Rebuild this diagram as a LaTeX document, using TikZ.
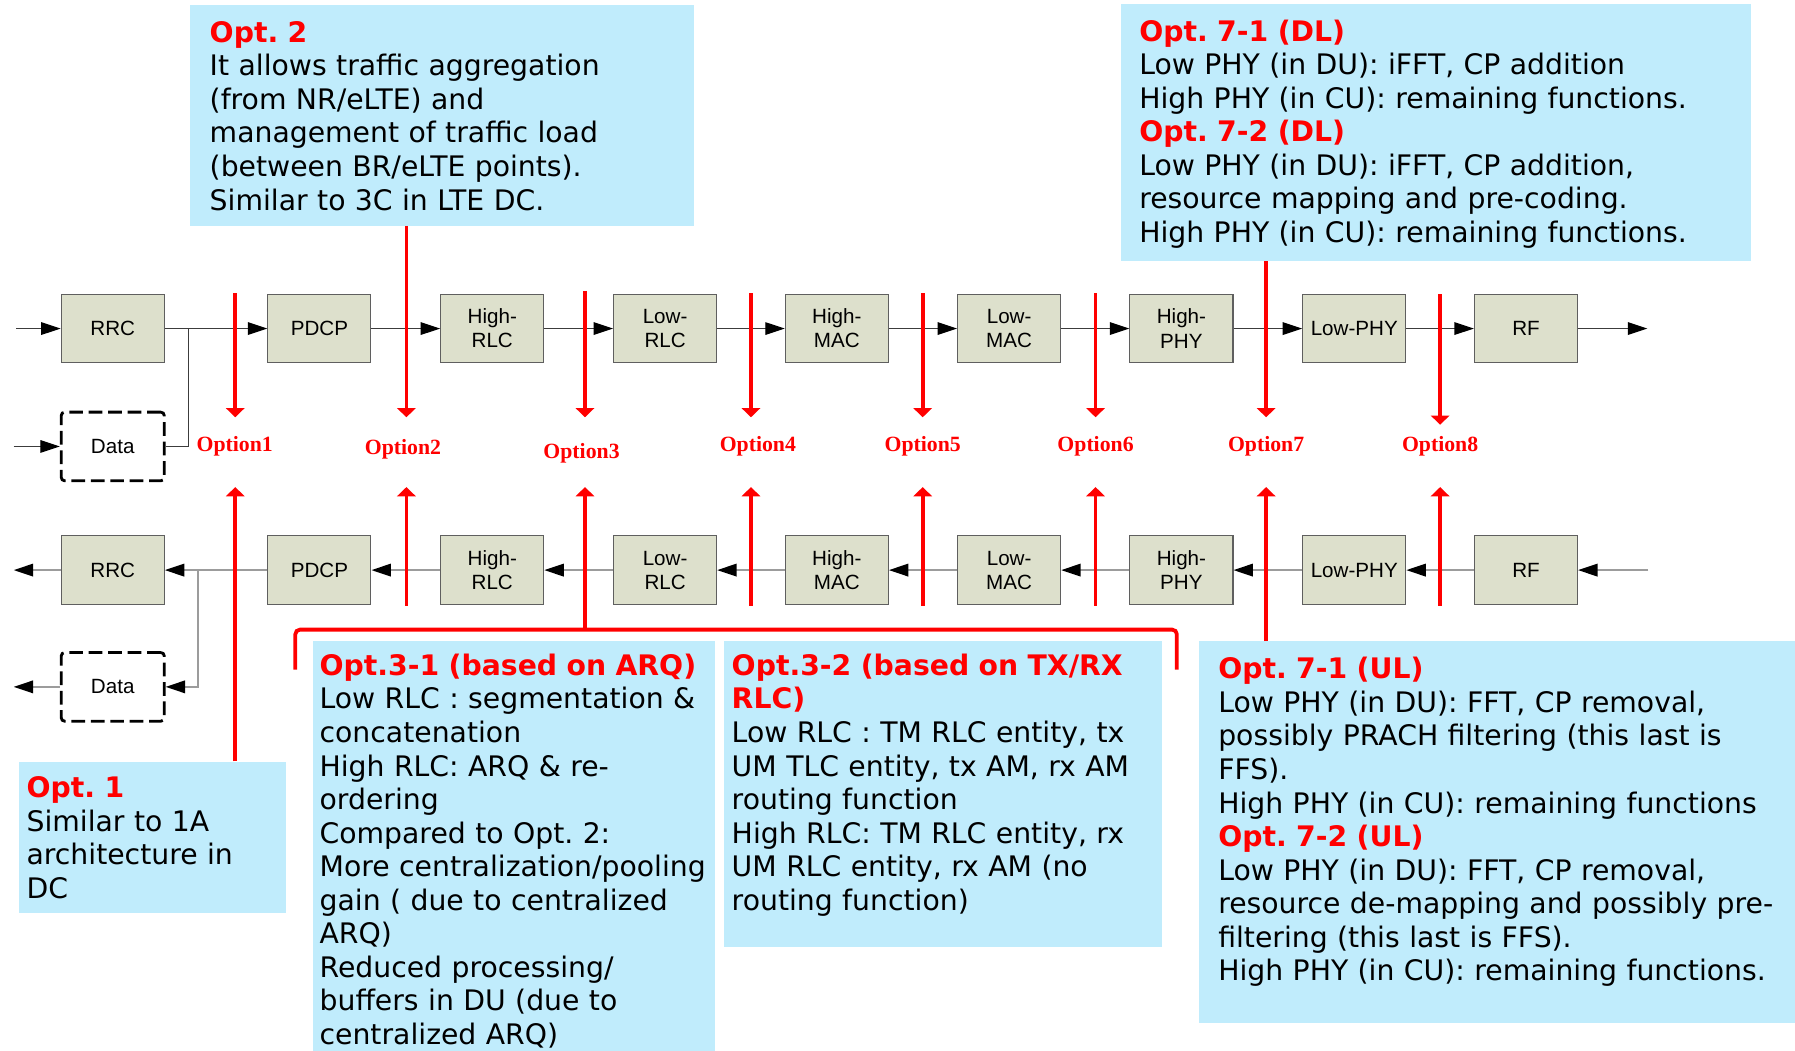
\documentclass[tikz,border=0pt]{standalone}
\usepackage{fontspec}
\setmainfont{DejaVu Sans}
\newfontfamily\lblfont{Liberation Sans}
\newfontfamily\optserif{Liberation Serif}
\usetikzlibrary{arrows.meta}
\definecolor{boxfill}{HTML}{DDE0CC}
\definecolor{boxline}{HTML}{5F5F5F}
\definecolor{infofill}{HTML}{C0ECFC}
\definecolor{optred}{HTML}{FF0000}
\definecolor{toprow}{HTML}{3C3C3C}
\definecolor{botrow}{HTML}{9C9C9C}
\newcommand\myinfofont{\fontsize{24.7}{29.3}\selectfont}
\newcommand\hd[1]{\textcolor{optred}{\bfseries #1}}
\frenchspacing
\begin{document}
\begin{tikzpicture}[x=1pt,y=-1pt,
  fn/.style={draw=boxline, fill=boxfill, line width=1pt, minimum width=90pt, minimum height=60pt,
    inner sep=0pt, align=center, font=\lblfont\fontsize{18}{21}\selectfont},
  databox/.style={draw=black, dash pattern=on 12pt off 5pt, line width=2.5pt, rounded corners=3pt,
    minimum width=90pt, minimum height=60pt, inner sep=0pt, font=\lblfont\fontsize{18}{21}\selectfont},
  infobox/.style={fill=infofill, anchor=north west, inner sep=0pt},
  infotext/.style={anchor=north west, inner sep=0pt, align=left, text width=600pt, font=\myinfofont},
  optlbl/.style={text=optred, inner sep=0pt, font=\optserif\bfseries\fontsize{19}{22}\selectfont},
  redarr/.style={draw=optred, line width=3.3pt, -{Triangle[length=8pt,width=16pt,color=optred]}},
  redline/.style={draw=optred, line width=3.3pt},
  rowT/.style={draw=toprow, line width=1pt, -{Triangle[length=17pt,width=11pt,color=black]}},
  rowTn/.style={draw=toprow, line width=1pt},
  rowB/.style={draw=botrow, line width=1.5pt, -{Triangle[length=17pt,width=11pt,color=black]}},
  rowBn/.style={draw=botrow, line width=1.5pt}
]
\useasboundingbox (0,0) rectangle (1568,918);

% ---------- info boxes ----------
\node[infobox, minimum width=440pt, minimum height=193pt] (box2) at (166,4) {};
\node[infobox, minimum width=550pt, minimum height=225pt] (box7dl) at (979,3) {};
\node[infobox, minimum width=234pt, minimum height=132pt] (box1) at (16,665) {};
\node[infobox, minimum width=351pt, minimum height=358pt] (box31) at (273,560) {};
\node[infobox, minimum width=383pt, minimum height=267pt] (box32) at (632,560) {};
\node[infobox, minimum width=521pt, minimum height=333pt] (box7ul) at (1047,560) {};

\node[infotext] (t2) at (183,16.3) {\strut\hd{Opt. 2}\\
It allows traffic aggregation\\
(from NR/eLTE) and\\
management of traffic load\\
(between BR/eLTE points).\\
Similar to 3C in LTE DC.};

\node[infotext] (t7dl) at (995,15.3) {\strut\hd{Opt. 7-1 (DL)}\\
Low PHY (in DU): iFFT, CP addition\\
High PHY (in CU): remaining functions.\\
\hd{Opt. 7-2 (DL)}\\
Low PHY (in DU): iFFT, CP addition,\\
resource mapping and pre-coding.\\
High PHY (in CU): remaining functions.};

\node[infotext] (t1) at (23,676) {\strut\hd{Opt. 1}\\
Similar to 1A\\
architecture in\\
DC};

\node[infotext] (t31) at (279,569.3) {\strut\hd{Opt.3-1 (based on ARQ)}\\
Low RLC : segmentation \&\\
concatenation\\
High RLC: ARQ \& re-\\
ordering\\
Compared to Opt. 2:\\
More centralization/pooling\\
gain ( due to centralized\\
ARQ)\\
Reduced processing/\\
buffers in DU (due to\\
centralized ARQ)};

\node[infotext] (t32) at (639,569.3) {\strut\hd{Opt.3-2 (based on TX/RX}\\
\hd{RLC)}\\
Low RLC : TM RLC entity, tx\\
UM TLC entity, tx AM, rx AM\\
routing function\\
High RLC: TM RLC entity, rx\\
UM RLC entity, rx AM (no\\
routing function)};

\node[infotext] (t7ul) at (1064,572.3) {\strut\hd{Opt. 7-1 (UL)}\\
Low PHY (in DU): FFT, CP removal,\\
possibly PRACH filtering (this last is\\
FFS).\\
High PHY (in CU): remaining functions\\
\hd{Opt. 7-2 (UL)}\\
Low PHY (in DU): FFT, CP removal,\\
resource de-mapping and possibly pre-\\
filtering (this last is FFS).\\
High PHY (in CU): remaining functions.};

% ---------- function boxes (top row, DL) ----------
\node[fn] (rrcT)  at (98.5,287) {RRC};
\node[fn] (pdcpT) at (279,287) {PDCP};
\node[fn] (hrlcT) at (430,287) {High-\\RLC};
\node[fn] (lrlcT) at (581,287) {Low-\\RLC};
\node[fn] (hmacT) at (731,287) {High-\\MAC};
\node[fn] (lmacT) at (881.5,287) {Low-\\MAC};
\node[fn] (hphyT) at (1032,287) {High-\\PHY};
\node[fn] (lphyT) at (1183,287) {Low-PHY};
\node[fn] (rfT)   at (1333,287) {RF};
\node[databox] (dataT) at (98.5,390) {Data};

% ---------- function boxes (bottom row, UL) ----------
\node[fn] (rrcB)  at (98.5,498) {RRC};
\node[fn] (pdcpB) at (279,498) {PDCP};
\node[fn] (hrlcB) at (430,498) {High-\\RLC};
\node[fn] (lrlcB) at (581,498) {Low-\\RLC};
\node[fn] (hmacB) at (731,498) {High-\\MAC};
\node[fn] (lmacB) at (881.5,498) {Low-\\MAC};
\node[fn] (hphyB) at (1032,498) {High-\\PHY};
\node[fn] (lphyB) at (1183,498) {Low-PHY};
\node[fn] (rfB)   at (1333,498) {RF};
\node[databox] (dataB) at (98.5,600) {Data};

% ---------- top row connectors ----------
\coordinate (inT) at (14,287);
\coordinate (inD) at (12,390);
\coordinate (jT) at (165,287);
\coordinate (outT) at (1439,287);
\draw[rowT] (inT) -- (rrcT.west);
\draw[rowT] (inD) -- (dataT.west);
\draw[rowTn] (dataT.east) -| (jT);
\draw[rowT] (rrcT.east) -- (pdcpT.west);
\draw[rowT] (pdcpT.east) -- (hrlcT.west);
\draw[rowT] (hrlcT.east) -- (lrlcT.west);
\draw[rowT] (lrlcT.east) -- (hmacT.west);
\draw[rowT] (hmacT.east) -- (lmacT.west);
\draw[rowT] (lmacT.east) -- (hphyT.west);
\draw[rowT] (hphyT.east) -- (lphyT.west);
\draw[rowT] (lphyT.east) -- (rfT.west);
\draw[rowT] (rfT.east) -- (outT);

% ---------- bottom row connectors ----------
\coordinate (outB) at (12,498);
\coordinate (outD) at (12,600);
\coordinate (jB) at (173,498);
\coordinate (inB) at (1440,498);
\draw[rowB] (rrcB.west) -- (outB);
\draw[rowB] (dataB.west) -- (outD);
\draw[rowB] (jB) |- (dataB.east);
\draw[rowB] (pdcpB.west) -- (rrcB.east);
\draw[rowB] (hrlcB.west) -- (pdcpB.east);
\draw[rowB] (lrlcB.west) -- (hrlcB.east);
\draw[rowB] (hmacB.west) -- (lrlcB.east);
\draw[rowB] (lmacB.west) -- (hmacB.east);
\draw[rowB] (hphyB.west) -- (lmacB.east);
\draw[rowB] (lphyB.west) -- (hphyB.east);
\draw[rowB] (rfB.west) -- (lphyB.east);
\draw[rowB] (inB) -- (rfB.east);

% ---------- option labels ----------
\node[optlbl] (l1) at (205,390) {Option1};
\node[optlbl] (l2) at (352,392.5) {Option2};
\node[optlbl] (l3) at (508,396) {Option3};
\node[optlbl] (l4) at (662,390) {Option4};
\node[optlbl] (l5) at (806,390) {Option5};
\node[optlbl] (l6) at (957,390) {Option6};
\node[optlbl] (l7) at (1106,390) {Option7};
\node[optlbl] (l8) at (1258,390) {Option8};

% ---------- red split arrows, downlink (down) ----------
\coordinate (d1) at (205.5,364.5);
\coordinate (d2) at (355,364.5);
\coordinate (d3) at (511,364.5);
\coordinate (d4) at (656,364.5);
\coordinate (d5) at (806,364.5);
\coordinate (d6) at (957,364.5);
\coordinate (d7) at (1106,364.5);
\coordinate (d8) at (1258,371);
\draw[redarr] (205.5,256) coordinate (s1) -- (d1);
\draw[redarr] (box2.south -| d2) -- (d2);
\draw[redarr] (511,254) coordinate (s3) -- (d3);
\draw[redarr] (656,256) coordinate (s4) -- (d4);
\draw[redarr] (806,256) coordinate (s5) -- (d5);
\draw[redarr] (957,256) coordinate (s6) -- (d6);
\draw[redarr] (box7dl.south -| d7) -- (d7);
\draw[redarr] (1258,257) coordinate (s8) -- (d8);

% ---------- red split arrows, uplink (up) ----------
\coordinate (u1) at (205.5,425.5);
\coordinate (u2) at (355,425.5);
\coordinate (u3) at (511,425.5);
\coordinate (u4) at (656,425.5);
\coordinate (u5) at (806,425.5);
\coordinate (u6) at (957,425.5);
\coordinate (u7) at (1106,425.5);
\coordinate (u8) at (1258,425.5);
\coordinate (brL) at (258,585);
\coordinate (brM) at (511,550);
\coordinate (brR) at (1028,585);
\draw[redline, rounded corners=4pt] (brL) |- (brM) -| (brR);
\draw[redarr] (box1.north -| u1) -- (u1);
\draw[redarr] (355,529) coordinate (e2) -- (u2);
\draw[redarr] (brM) -- (u3);
\draw[redarr] (656,529) coordinate (e4) -- (u4);
\draw[redarr] (806,529) coordinate (e5) -- (u5);
\draw[redarr] (957,529) coordinate (e6) -- (u6);
\draw[redarr] (box7ul.north -| u7) -- (u7);
\draw[redarr] (1258,529) coordinate (e8) -- (u8);
\end{tikzpicture}
\end{document}
